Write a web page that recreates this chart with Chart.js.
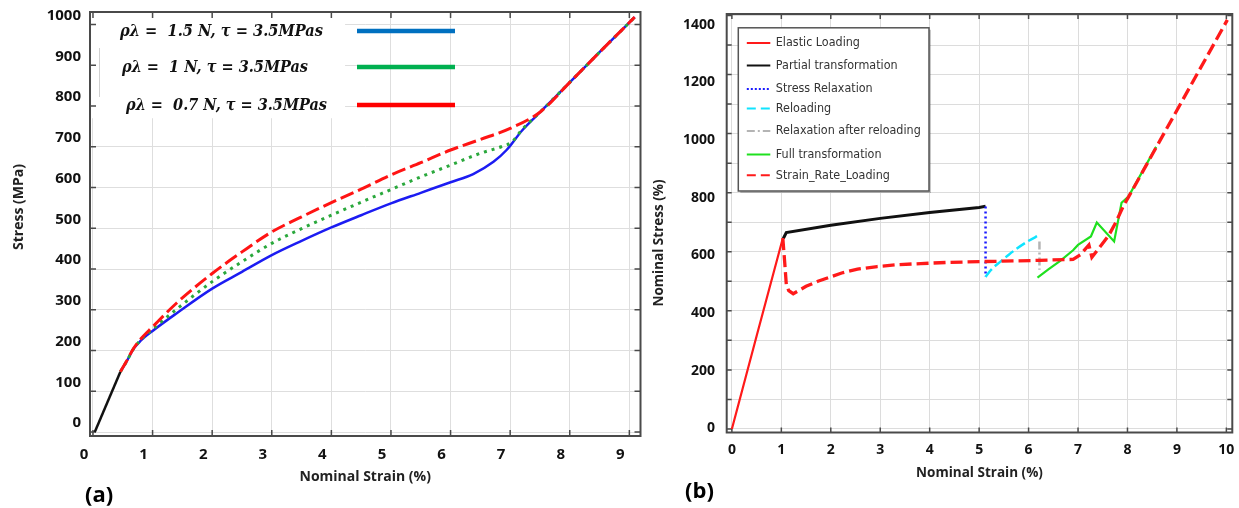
<!DOCTYPE html>
<html><head><meta charset="utf-8">
<script src="https://cdn.jsdelivr.net/npm/chart.js@4.4.1/dist/chart.umd.min.js"></script>
<style>
html,body{margin:0;padding:0;background:#fff;}
#wrap{position:relative;width:1239px;height:508px;overflow:hidden;background:#fff;}
#ca{position:absolute;left:0;top:0;}
#cb{position:absolute;left:645px;top:0;}
.tag{position:absolute;font:bold 22px 'Open Sans',sans-serif;line-height:1;color:#000;}
</style></head><body>
<div id="wrap">
<canvas id="ca" width="645" height="508"></canvas>
<canvas id="cb" width="594" height="508"></canvas>
<div class="tag" style="left:85px;top:482px;">(a)</div>
<div class="tag" style="left:685px;top:478px;">(b)</div>
</div>
<script>
// ---------- Panel (a) data ----------
const aXTicks = [0,1,2,3,4,5,6,7,8,9];
const aXTickLabels = ['0','1','2','3','4','5','6','7','8','9'];
const aYTicks = [0,100,200,300,400,500,600,700,800,900,1000];
const aYTickLabels = ['0','100','200','300','400','500','600','700','800','900','1000'];

const aElasticStrain = [0.03, 0.46];
const aElasticStress = [0, 148];

const aBlueStrain = [0.46,0.56,0.68,0.8,1.0,1.4,2.0,2.5,3.0,3.5,4.0,4.5,5.0,5.5,6.0,6.38,6.72,6.94,7.2,7.51,8.0,8.5,9.09];
const aBlueStress = [148,172,204,224,248,291,352,393,434,469,502,532,561,587,613,633,663,692,740,786,858,932,1018];

const aGreenStrain = [0.46,0.56,0.68,0.8,1.0,1.4,2.0,2.5,3.0,3.5,4.0,4.5,5.0,5.5,6.0,6.5,6.85,7.03,7.2,7.51,8.0,8.5,9.09];
const aGreenStress = [148,172,204,226,252,301,369,418,463,499,532,564,595,626,655,684,700,712,742,786,858,932,1018];

const aRedStrain = [0.46,0.56,0.68,0.8,1.0,1.4,2.0,2.5,3.0,3.5,4.0,4.5,5.0,5.5,6.0,6.5,7.0,7.51,8.0,8.5,9.09];
const aRedStress = [148,173,205,228,258,316,389,442,491,528,563,596,631,661,692,718,745,786,858,932,1018];

const aSeriesLabels = ['ρλ =  1.5 N, τ = 3.5MPas', 'ρλ =  1 N, τ = 3.5MPas', 'ρλ =  0.7 N, τ = 3.5MPas'];

// ---------- Panel (b) data ----------
const bXTicks = [0,1,2,3,4,5,6,7,8,9,10];
const bXTickLabels = ['0','1','2','3','4','5','6','7','8','9','10'];
const bYTicks = [0,100,200,300,400,500,600,700,800,900,1000,1100,1200,1300,1400];
const bYLabelTicks = [0,200,400,600,800,1000,1200,1400];
const bYTickLabels = ['0','200','400','600','800','1000','1200','1400'];

const bSeriesLabels = ['Elastic Loading','Partial transformation','Stress Relaxation','Reloading','Relaxation after reloading','Full transformation','Strain_Rate_Loading'];

const bElasticStrain = [0, 0.5, 1.03];
const bElasticStress = [0, 315, 646];
const bPartialStrain = [1.04, 1.1, 2, 3, 4, 5, 5.13];
const bPartialStress = [645, 665, 690, 713, 733, 750, 754];
const bRelaxStrain = [5.13, 5.13];
const bRelaxStress = [753, 515];
const bReloadStrain = [5.13, 5.25, 5.42, 5.6, 5.74, 5.98, 6.22];
const bReloadStress = [515, 540, 565, 590, 608, 635, 657];
const bRelax2Strain = [6.22, 6.22];
const bRelax2Stress = [635, 539];
const bFullStrain = [6.18, 6.4, 6.64, 6.9, 7.0, 7.26, 7.38, 7.73, 7.88, 8.02, 8.58];
const bFullStress = [512, 540, 569, 605, 623, 652, 699, 635, 766, 787, 955];
const bRateStrain = [1.03, 1.07, 1.1, 1.15, 1.24, 1.5, 1.74, 1.98, 2.22, 2.54, 2.94, 3.34, 3.82, 4.38, 5.13, 5.74, 6.22, 6.9, 7.05, 7.22, 7.28, 7.45, 7.62, 7.76, 7.93, 8.02, 10.02];
const bRateStress = [646, 560, 490, 468, 458, 483, 500, 514, 528, 541, 550, 556, 560, 564, 567, 569, 571, 574, 590, 623, 581, 618, 655, 698, 759, 785, 1385];

// ---------- helpers ----------
Chart.defaults.font.family = "'Open Sans', sans-serif";
const pts = (xs, ys) => xs.map((x, i) => ({x, y: ys[i]}));

function axis(opts) {
  const {min, max, ticks, labels, size, horiz, font, pad, labelOffset, gridColor, title, showLabels = true, showGrid = true} = opts;
  const o = {
    type: 'linear', min, max,
    border: {display: false},
    grid: {display: showGrid, color: gridColor, lineWidth: 1, drawTicks: false},
    ticks: {display: showLabels, autoSkip: false, maxRotation: 0, color: '#111', font, padding: pad, labelOffset,
      callback: (v, i) => labels ? labels[i] : ''},
    afterBuildTicks: s => { s.ticks = ticks.map(v => ({value: v})); },
    afterFit: s => {
      if (horiz) s.height = size; else s.width = size;
      s.paddingLeft = 0; s.paddingRight = 0; s.paddingTop = 0; s.paddingBottom = 0;
    }
  };
  if (title) o.title = title;
  return o;
}

const decor = {
  id: 'decor',
  beforeDatasetsDraw(chart, args, o) {
    const {ctx, chartArea: a, scales: {x, y}} = chart;
    ctx.save();
    if (o.box) {
      const x1 = x.getPixelForValue(o.box.x1), y1 = y.getPixelForValue(o.box.y1);
      ctx.fillStyle = '#fff';
      ctx.fillRect(a.left + 1, a.top + 1, x1 - a.left - 1, y1 - a.top - 1);
      ctx.strokeStyle = '#d0d0d0'; ctx.lineWidth = 1;
      ctx.beginPath(); ctx.moveTo(a.left + 9.5, a.top + 36); ctx.lineTo(a.left + 9.5, a.top + 85); ctx.stroke();
    }
    ctx.strokeStyle = o.color; ctx.lineWidth = 1.5;
    ctx.beginPath();
    x.ticks.forEach(t => {
      const p = x.getPixelForValue(t.value);
      ctx.moveTo(p, a.top); ctx.lineTo(p, a.top + o.tick);
      ctx.moveTo(p, a.bottom); ctx.lineTo(p, a.bottom - o.tick);
    });
    y.ticks.forEach(t => {
      const p = y.getPixelForValue(t.value);
      ctx.moveTo(a.left, p); ctx.lineTo(a.left + o.tick, p);
      ctx.moveTo(a.right, p); ctx.lineTo(a.right - o.tick, p);
    });
    ctx.stroke();
    ctx.lineWidth = o.width;
    ctx.strokeRect(a.left, a.top, a.right - a.left, a.bottom - a.top);
    ctx.restore();
  },
  afterDraw(chart, args, o) {
    const {ctx} = chart;
    ctx.save();
    ctx.translate(o.yTitle.x, o.yTitle.y);
    ctx.rotate(-Math.PI / 2);
    ctx.font = o.yTitle.font; ctx.fillStyle = '#222';
    ctx.textAlign = 'center'; ctx.textBaseline = 'middle';
    ctx.fillText(o.yTitle.text, 0, 0);
    ctx.restore();
  }
};

const legendA = {
  id: 'legendA',
  afterDatasetsDraw(chart, args, o) {
    const {ctx, chartArea: a} = chart;
    ctx.save();
    o.items.forEach((ds, i) => {
      const yy = a.top + o.rows[i];
      ctx.strokeStyle = o.colors[i]; ctx.lineWidth = 4.5; ctx.setLineDash([]);
      ctx.beginPath(); ctx.moveTo(a.left + o.lx0, yy); ctx.lineTo(a.left + o.lx1, yy); ctx.stroke();
      ctx.font = o.font; ctx.fillStyle = '#111'; ctx.textBaseline = 'middle'; ctx.textAlign = 'left';
      const w = ctx.measureText(ds).width;
      ctx.save(); ctx.translate(a.left + o.tx[i], yy + 1); ctx.scale(o.tw[i] / w, 1);
      ctx.fillText(ds, 0, 0); ctx.restore();
    });
    ctx.restore();
  }
};

const legendB = {
  id: 'legendB',
  afterDatasetsDraw(chart, args, o) {
    const {ctx, chartArea: a} = chart;
    const L = a.left + o.dx, T = a.top + o.dy;
    ctx.save();
    ctx.fillStyle = 'rgba(0,0,0,0.22)'; ctx.fillRect(L + 2, T + 2, o.w, o.h);
    ctx.fillStyle = '#fff'; ctx.fillRect(L, T, o.w, o.h);
    ctx.strokeStyle = '#555'; ctx.lineWidth = 1.5; ctx.strokeRect(L, T, o.w, o.h);
    chart.data.datasets.forEach((ds, i) => {
      const yy = T + o.rows[i];
      ctx.strokeStyle = ds.borderColor; ctx.lineWidth = 2;
      ctx.setLineDash(ds.legendDash || []);
      ctx.beginPath(); ctx.moveTo(L + o.x0, yy); ctx.lineTo(L + o.x1, yy); ctx.stroke();
      ctx.setLineDash([]);
      ctx.font = o.font; ctx.fillStyle = '#333'; ctx.textBaseline = 'middle'; ctx.textAlign = 'left';
      ctx.save(); ctx.translate(L + o.tx, yy); ctx.scale(o.sx, 1);
      ctx.fillText(ds.label, 0, 0); ctx.restore();
    });
    ctx.restore();
  }
};

const lineDefaults = {pointRadius: 0, borderCapStyle: 'butt', fill: false};

// ---------- Chart (a) ----------
new Chart(document.getElementById('ca'), {
  type: 'line',
  data: {datasets: [
    Object.assign({label: aSeriesLabels[0], data: pts(aBlueStrain, aBlueStress), borderColor: '#1c1cf2', borderWidth: 2.5, cubicInterpolationMode: 'monotone', order: 2}, lineDefaults),
    Object.assign({label: aSeriesLabels[1], data: pts(aGreenStrain, aGreenStress), borderColor: '#2aa83c', borderWidth: 3, borderDash: [3, 5], cubicInterpolationMode: 'monotone', order: 1}, lineDefaults),
    Object.assign({label: aSeriesLabels[2], data: pts(aRedStrain, aRedStress), borderColor: '#ff1414', borderWidth: 3, borderDash: [14, 5], cubicInterpolationMode: 'monotone', order: 0}, lineDefaults),
    Object.assign({label: 'elastic', data: pts(aElasticStrain, aElasticStress), borderColor: '#111', borderWidth: 2.5, order: 3}, lineDefaults)
  ]},
  options: {
    responsive: false, animation: false, events: [],
    layout: {padding: {left: 0, right: 4.5, top: 12, bottom: 0}},
    plugins: {
      legend: {display: false}, tooltip: {enabled: false},
      decor: {color: '#4a4a4a', width: 2, tick: 6, box: {x1: 4.23, y1: 770},
        yTitle: {text: 'Stress (MPa)', x: 18.6, y: 207, font: "bold 14px 'Open Sans'"}},
      legendA: {items: aSeriesLabels, colors: ['#0070c0', '#00b050', '#ff0000'],
        rows: [19, 55, 93], lx0: 267, lx1: 365, tx: [30, 32, 36], tw: [203, 186, 201],
        font: "italic bold 17px 'DejaVu Serif'"}
    },
    scales: {
      x: axis({min: -0.05, max: 9.187, ticks: aXTicks, labels: aXTickLabels, size: 72, horiz: true,
        font: {size: 15, weight: 'bold'}, pad: 10, labelOffset: -9, gridColor: '#dedede',
        title: {display: true, text: 'Nominal Strain (%)', color: '#222', font: {size: 14, weight: 'bold'}, padding: {top: 0, bottom: 22.6}}}),
      y: axis({min: -9.8, max: 1030.7, ticks: aYTicks, labels: aYTickLabels, size: 90, horiz: false,
        font: {size: 15, weight: 'bold'}, pad: 9, labelOffset: -9, gridColor: '#dedede'})
    }
  },
  plugins: [decor, legendA]
});

// ---------- Chart (b) ----------
new Chart(document.getElementById('cb'), {
  type: 'line',
  data: {datasets: [
    Object.assign({label: bSeriesLabels[0], data: pts(bElasticStrain, bElasticStress), borderColor: '#ff1a1a', borderWidth: 2.2, order: 5}, lineDefaults),
    Object.assign({label: bSeriesLabels[1], data: pts(bPartialStrain, bPartialStress), borderColor: '#111111', borderWidth: 3, order: 6}, lineDefaults),
    Object.assign({label: bSeriesLabels[2], data: pts(bRelaxStrain, bRelaxStress), borderColor: '#1a1aff', borderWidth: 2.5, borderDash: [2, 3], legendDash: [2, 2], order: 4}, lineDefaults),
    Object.assign({label: bSeriesLabels[3], data: pts(bReloadStrain, bReloadStress), borderColor: '#10e4ff', borderWidth: 2.5, borderDash: [10, 4], legendDash: [9, 5], cubicInterpolationMode: 'monotone', order: 3}, lineDefaults),
    Object.assign({label: bSeriesLabels[4], data: pts(bRelax2Strain, bRelax2Stress), borderColor: '#b4b4b4', borderWidth: 2.5, borderDash: [8, 3, 2, 3], legendDash: [8, 3, 2, 3], order: 2}, lineDefaults),
    Object.assign({label: bSeriesLabels[5], data: pts(bFullStrain, bFullStress), borderColor: '#1fe01f', borderWidth: 2.2, order: 1}, lineDefaults),
    Object.assign({label: bSeriesLabels[6], data: pts(bRateStrain, bRateStress), borderColor: '#ff1a1a', borderWidth: 3.3, borderDash: [12, 5], legendDash: [9, 5], order: 0}, lineDefaults)
  ]},
  options: {
    responsive: false, animation: false, events: [],
    layout: {padding: {left: 0, right: 6.7, top: 14, bottom: 0}},
    plugins: {
      legend: {display: false}, tooltip: {enabled: false},
      decor: {color: '#4a4a4a', width: 2, tick: 5,
        yTitle: {text: 'Nominal Stress (%)', x: 14.5, y: 243, font: "bold 13.5px 'Open Sans'"}},
      legendB: {dx: 11.6, dy: 13.8, w: 190.7, h: 163.2, x0: 8.5, x1: 32, tx: 37.5, sx: 0.86,
        rows: [15.2, 37.7, 61.2, 80.7, 103.2, 126.7, 147.4], font: "13px 'DejaVu Sans'"}
    },
    scales: {
      x: axis({min: -0.105, max: 10.12, ticks: bXTicks, labels: bXTickLabels, size: 75.5, horiz: true,
        font: {size: 14, weight: 'bold'}, pad: 9.1, labelOffset: 0, gridColor: '#dcdcdc',
        title: {display: true, text: 'Nominal Strain (%)', color: '#222', font: {size: 13.5, weight: 'bold'}, padding: {top: 0, bottom: 26.9}}}),
      y: Object.assign(axis({min: -12, max: 1405, ticks: bYTicks, size: 0, horiz: false, showLabels: false,
        font: {size: 14, weight: 'bold'}, pad: 0, labelOffset: 0, gridColor: '#dcdcdc'}), {position: 'left', weight: 0}),
      yLab: Object.assign(axis({min: -14.6, max: 1437.6, ticks: bYLabelTicks, labels: bYTickLabels, size: 81.7, horiz: false,
        showGrid: false, font: {size: 14, weight: 'bold'}, pad: 11.7, labelOffset: 0, gridColor: '#dcdcdc'}), {position: 'left', axis: 'y', weight: 1})
    }
  },
  plugins: [decor, legendB]
});
</script>
</body></html>
